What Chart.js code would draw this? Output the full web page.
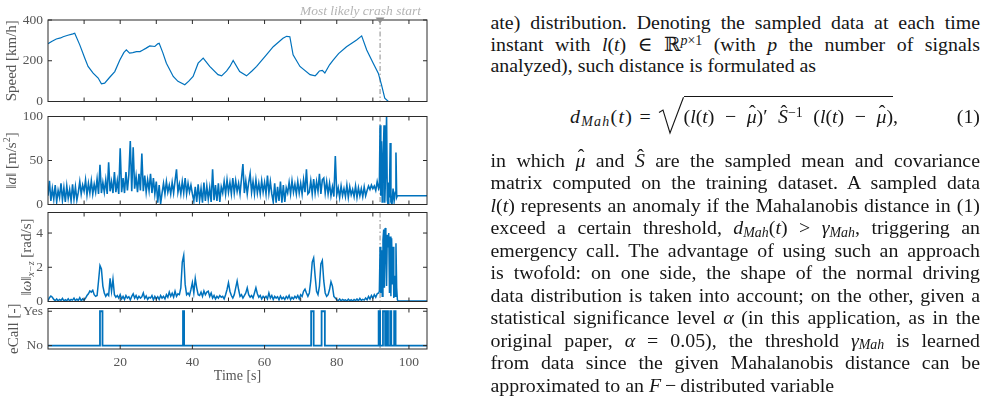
<!DOCTYPE html>
<html>
<head>
<meta charset="utf-8">
<script src="https://cdn.jsdelivr.net/npm/chart.js@4.4.1/dist/chart.umd.min.js"></script>
<style>
html, body { margin: 0; padding: 0; background: #fff; }
#wrap { position: relative; width: 987px; height: 400px; overflow: hidden; font-family: 'Liberation Serif', 'DejaVu Serif', serif; color: #161616; }
canvas { position: absolute; left: 0; }
.p { position: absolute; left: 490.5px; width: 489.5px; font-size: 20px; }
.l { white-space: nowrap; text-align: justify; text-align-last: justify; }
.e { text-align: left; text-align-last: left; }
.sp { font-size: 0.7em; position: relative; top: -0.42em; line-height: 0; }
.sb { font-size: 0.7em; position: relative; top: 0.2em; line-height: 0; font-style: italic; }
.hat { position: relative; display: inline-block; font-style: italic; }
.hat::after { content: "\02C6"; font-style: normal; position: absolute; left: 0.12em; top: -0.22em; }
.eqp { position: absolute; font-size: 20px; line-height: 22px; white-space: nowrap; }
#rad { border-top: 1.1px solid #161616; padding-top: 7.6px; }
</style>
</head>
<body>
<div id="wrap">
  <canvas id="c1" width="430" height="117" style="top:0px"></canvas>
  <canvas id="c2" width="430" height="119" style="top:101px"></canvas>
  <canvas id="c3" width="430" height="120" style="top:197px"></canvas>
  <canvas id="c4" width="430" height="107" style="top:293px"></canvas>

  <div class="p" style="top:12px; line-height:21.7px">
    <div class="l">ate) distribution. Denoting the sampled data at each time</div>
    <div class="l">instant with <i>l</i>(<i>t</i>) ∈ ℝ<span class="sp"><i>p</i>×1</span> (with <i>p</i> the number of signals</div>
    <div class="l e"><span id="probe">analyzed), such distance is formulated as</span></div>
  </div>

  <div class="eqp" id="lhs" style="left:570px; top:104.8px"><i>d</i><span class="sb">Mah</span>(<i>t</i>) =</div>
  <svg style="position:absolute;left:0;top:0" width="987" height="400">
    <path d="M659 112.5 L663 110 L670 133 L683.5 97.2" fill="none" stroke="#161616" stroke-width="1.1"/>
  </svg>
  <div class="eqp" style="left:683.5px; top:104.8px"><span id="rad">(<i>l</i>(<i>t</i>) − <span class="hat">μ</span>)′ <span class="hat">S</span><span class="sp">−1</span> (<i>l</i>(<i>t</i>) − <span class="hat">μ</span>)</span>,</div>
  <div class="eqp" style="right:7px; top:104.8px">(1)</div>

  <div class="p" style="top:148.6px; line-height:22.5px">
    <div class="l">in which <span class="hat">μ</span> and <span class="hat">S</span> are the sampled mean and covariance</div>
    <div class="l">matrix computed on the training dataset. A sampled data</div>
    <div class="l"><i>l</i>(<i>t</i>) represents an anomaly if the Mahalanobis distance in (1)</div>
    <div class="l">exceed a certain threshold, <i>d</i><span class="sb">Mah</span>(<i>t</i>) &gt; <i>γ</i><span class="sb">Mah</span>, triggering an</div>
    <div class="l">emergency call. The advantage of using such an approach</div>
    <div class="l">is twofold: on one side, the shape of the normal driving</div>
    <div class="l">data distribution is taken into account; on the other, given a</div>
    <div class="l">statistical significance level <i>α</i> (in this application, as in the</div>
    <div class="l">original paper, <i>α</i> = 0.05), the threshold <i>γ</i><span class="sb">Mah</span> is learned</div>
    <div class="l">from data since the given Mahalanobis distance can be</div>
    <div class="l e">approximated to an <i>F</i>&#8201;−&#8201;distributed variable</div>
  </div>
</div>

<script>
// time axis
const xMin = 0, xMax = 105;
const crashTime = 92;
const xTicksFine = [10, 20, 30, 40, 50, 60, 70, 80, 90, 100];
const xTicksLabelled = [20, 40, 60, 80, 100];

// speed [km/h]
const speedT = [0,1,2.3,3.5,4.2,5.5,6.9,7.4,8.8,10.2, 11.1,12.5,13.9,14.8,15.7,17.1,18.5,19.9,21.0,21.7,
  22.6,23.5,24.5,25.5,26.3,27.2,28.2,29.6,30.4,30.8, 31.8,32.8,34.7,36.0,37.9,39.0,40.2,41.6,43.0,44.8,
  47.1,48.1,49.5,50.4,51.3,53.1,55.0,56.5,57.8,60.5, 62.4,65.1,66.1,67.0,67.9,69.8,72.6,74.0,74.5,75.2,
  76.0,76.7,78.0,79.0,80.5,82.7,85.5,86.9,88.3,90.1, 91.5,92.4,93.3,94.3,105];
const speedV = [283,295,307,312,318,325,332,335,278,212, 172,139,115,87,90,119,147,204,240,253,
  237,240,245,245,253,262,273,270,283,286, 240,188,123,99,82,100,123,188,213,172,
  132,126,150,172,201,147,126,150,172,229, 269,310,320,318,229,172,132,126,135,150,
  153,140,180,203,235,269,302,322,253,188, 139,82,16,0,0];
const speedTicks = [0, 200, 400];

// acceleration norm [m/s^2], sampled every accelDt s until the crash
const accelDt = 0.4;
const accelV = [
  10,27,4,18,6,22,3,16,8,24,5,19,3,21,7,17,4,23,6,20,5,
  14,26,12,22,15,28,11,24,13,27,12,23,14,29,12,
  45,13,25,14,28,12,48,15,26,13,37,14,27,12,64,
  14,30,13,37,16,34,72,15,65,18,32,14,35,16,58,
  15,33,14,28,16,35,13,30,12,26,2,22,1,
  13,24,12,26,14,22,12,25,13,27,40,14,23,12,26,13,30,12,24,14,22,12,
  4,20,3,23,5,18,2,25,4,21,6,19,3,40,5,22,4,24,3,20,
  13,26,12,28,14,25,12,30,13,27,15,24,12,29,46,13,27,12,25,35,14,26,12,28,13,24,12,27,14,25,12,33,13,26,12,
  3,24,2,20,4,26,2,22,3,19,
  13,25,12,27,14,23,12,26,13,24,12,28,14,40,12,
  14,27,12,29,13,26,15,35,12,28,30,13,26,12,24,
  10,20,9,55,11,19,8,21,10,18,9,22,8,20,11,17,9,21,8,19,10,18,9,20,10,
  16,21,17,22,18,21,16,26,18];
const accelCrashT = [91.8,92.0,92.2,92.4,92.6,92.8,93.1,93.3,93.5,93.8,94.0,94.2,94.4,94.6,94.8,95.0,95.3,95.6,95.9,96.2,96.4,96.6,96.8,97.0,105];
const accelCrashV = [20,90,10,72,3,45,90,2,30,100,5,0,25,8,70,3,0,18,4,14,59,8,10,10,10];
const accelTicks = [0, 50, 100];

// angular rate norm [rad/s]
const gyroDt = 0.4;
const gyroV = [
  0.05,0.22,0.32,0.25,0.12,0.05,0.15,0.04,0.12,0.06,0.18,0.03,0.1,0.05,0.16,0.04,0.12,0.08,0.2,0.05,0.14,0.06,0.22,0.04,0.15,0.08,
  0.2,0.35,0.45,0.62,0.55,0.65,0.4,0.3,0.35,1.2,2.1,1.9,0.9,0.5,0.3,0.45,0.35,1.35,0.6,1.3,0.4,0.25,0.35,0.2,0.4,
  0.15,0.3,0.12,0.35,0.2,0.28,0.1,0.3,0.45,0.2, 0.35,0.15,0.3,0.2,0.28,0.5,0.18,0.32,0.12,0.25,
  0.2,0.35,0.1,0.3,0.15,0.28,0.12,0.35,0.2,0.3, 0.15,0.4,0.25,0.55,0.3,0.48,0.25,0.6,0.3,0.45,
  0.4,0.8,2.3,2.7,1.0,0.4,0.5,0.35,0.7,1.1,0.5,1.35,0.8,0.4,0.35,0.55,0.3,0.62,0.4,0.55,
  0.6,0.3,0.5,0.2,0.35,0.15,0.3,0.2,0.35,0.25, 0.3,0.15,0.4,0.7,1.1,0.6,0.35,0.2,0.4,0.8,
  1.2,0.7,0.3,0.4,0.2,0.35,0.5,0.8,0.4,0.25, 0.35,0.2,0.5,0.8,0.45,0.25,0.35,0.15,0.3,0.2,
  0.3,0.15,0.5,0.2,0.35,0.12,0.3,0.2,0.28,0.1, 0.32,0.15,0.25,0.12,0.3,0.18,0.35,0.1,0.25,0.15,
  0.3,0.2,0.35,0.15,0.4,0.3,0.6,0.72,0.5,0.3,
  0.5,1.2,2.3,2.55,1.5,0.6,0.4,0.9,2.2,2.4,1.2,0.5,0.3,0.4,0.7,1.15,0.9,0.3,0.2,0.1,
  0.05,0.15,0.03,0.12,0.06,0.1,0.02,0.14,0.04,0.1, 0.03,0.12,0.05,0.15,0.04,0.18,0.06,0.12,0.08,0.2,
  0.1,0.3,0.15,0.35,0.2,0.4,0.25,0.45,0.5];
const gyroCrashT = [91.8,92.0,92.2,92.4,92.6,92.8,93.0,93.2,93.4,93.6,93.8,94.0,94.2,94.4,94.6,94.8,95.0,95.2,95.4,95.6,95.8,96.0,96.2,96.4,96.6,96.8,97.0,105];
const gyroCrashV = [0.6,3.2,0.5,3.0,0.3,3.6,4.2,0.8,4.3,3.5,0.9,3.9,3.2,4.0,0.5,3.8,0.3,3.7,1.0,3.2,0.2,1.5,0.3,3.4,0.8,0.1,0.03,0.03];
const gyroTicks = [0, 2, 4];

// eCall triggered intervals [s]
const eCallStart = [14.4, 37.4, 72.9, 75.8, 91.6, 92.8, 93.9, 94.8, 95.9];
const eCallEnd   = [15.1, 37.7, 73.6, 76.7, 92.0, 93.4, 94.2, 95.1, 96.3];
const eCallTicks = [0, 1];
const eCallLabels = ['No', 'Yes'];

const BLUE = '#0072BD';
const AXC = '#2b2b2b';
const TXT = '#565656';
const FONT = "'Liberation Serif', 'DejaVu Serif', serif";

// fit the body text to the measured widths of the reference
(function fitText() {
  const k = 326 / document.getElementById('probe').getBoundingClientRect().width;
  document.querySelectorAll('.p, .eqp').forEach(el => { el.style.fontSize = (20 * k) + 'px'; });
  const rad = document.getElementById('rad');
  rad.style.wordSpacing = ((893 - 683.5 - rad.getBoundingClientRect().width) / 6) + 'px';
  const lhs = document.getElementById('lhs');
  const n = lhs.textContent.length;
  lhs.style.letterSpacing = ((652 - 570 - lhs.getBoundingClientRect().width) / n) + 'px';
})();

function pairs(t, v) { return t.map((x, i) => ({x: x, y: v[i]})); }
function sampled(dt, v) { return v.map((y, i) => ({x: Math.round(i * dt * 100) / 100, y: y})); }

let ePts = [{x: xMin, y: 0}];
eCallStart.forEach((s, i) => {
  ePts.push({x: s, y: 0}, {x: s, y: 1}, {x: eCallEnd[i], y: 1}, {x: eCallEnd[i], y: 0});
});
ePts.push({x: xMax, y: 0});

function axesPlugin(o) {
  return {
    id: 'matlabAxes',
    beforeDatasetsDraw(chart) {
      const ctx = chart.ctx, a = chart.chartArea;
      const cx = chart.scales.x.getPixelForValue(crashTime);
      ctx.save();
      ctx.strokeStyle = '#8a8a8a';
      ctx.lineWidth = 1;
      ctx.setLineDash([5, 2.5, 1.5, 2.5]);
      ctx.beginPath(); ctx.moveTo(cx, a.top); ctx.lineTo(cx, a.bottom); ctx.stroke();
      ctx.restore();
    },
    afterDatasetsDraw(chart) {
      const ctx = chart.ctx, a = chart.chartArea;
      const x = chart.scales.x, y = chart.scales.y;
      ctx.save();
      ctx.strokeStyle = AXC;
      ctx.lineWidth = 1;
      ctx.strokeRect(a.left, a.top, a.right - a.left, a.bottom - a.top);
      ctx.beginPath();
      o.xMarks.forEach(v => {
        const px = x.getPixelForValue(v);
        ctx.moveTo(px, a.top); ctx.lineTo(px, a.top + 4);
        ctx.moveTo(px, a.bottom); ctx.lineTo(px, a.bottom - 4);
      });
      o.yTicks.forEach(v => {
        const py = y.getPixelForValue(v);
        ctx.moveTo(a.left, py); ctx.lineTo(a.left + 4, py);
        ctx.moveTo(a.right, py); ctx.lineTo(a.right - 4, py);
      });
      ctx.stroke();

      // y label, drawn in pieces so that italics and sub/superscripts work
      ctx.fillStyle = TXT;
      ctx.textBaseline = 'middle';
      ctx.translate(o.titleX, (a.top + a.bottom) / 2 + (o.titleDy || 0));
      ctx.rotate(-Math.PI / 2);
      let w = 0;
      o.title.forEach(s => { ctx.font = s.f + ' ' + FONT; w += ctx.measureText(s.t).width; });
      let pos = -w / 2;
      o.title.forEach(s => {
        ctx.font = s.f + ' ' + FONT;
        ctx.fillText(s.t, pos, s.dy || 0);
        pos += ctx.measureText(s.t).width;
      });
      ctx.restore();

      if (o.xTitle) {
        ctx.save();
        ctx.fillStyle = TXT;
        ctx.font = '14px ' + FONT;
        ctx.textAlign = 'center';
        ctx.textBaseline = 'middle';
        ctx.fillText(o.xTitle, (a.left + a.right) / 2, o.xTitleY);
        ctx.restore();
      }
      if (o.note) {
        const cx = x.getPixelForValue(crashTime);
        ctx.save();
        ctx.fillStyle = '#b4b4b4';
        ctx.font = 'italic 13.5px ' + FONT;
        ctx.textAlign = 'right';
        ctx.textBaseline = 'middle';
        ctx.fillText(o.note, 421, 11.5);
        ctx.fillStyle = '#8f8f8f';
        ctx.beginPath();
        ctx.moveTo(cx - 4.5, a.top - 2.5); ctx.lineTo(cx + 4.5, a.top - 2.5); ctx.lineTo(cx, a.top + 3.5);
        ctx.closePath(); ctx.fill();
        ctx.restore();
      }
    }
  };
}

function panel(id, o) {
  return new Chart(document.getElementById(id), {
    type: 'line',
    data: { datasets: [{ data: o.points, borderColor: BLUE, borderWidth: o.lw || 1.2, pointRadius: 0, tension: 0, fill: false }] },
    options: {
      responsive: false,
      animation: false,
      events: [],
      layout: { padding: { top: o.padTop, bottom: o.padBottom, left: 0, right: 3 } },
      plugins: { legend: { display: false }, tooltip: { enabled: false } },
      scales: {
        x: {
          type: 'linear', min: xMin, max: xMax,
          grid: { display: false, drawTicks: false }, border: { display: false },
          afterBuildTicks: s => { s.ticks = (o.xLabels || o.xMarks).map(v => ({ value: v })); },
          ticks: { display: !!o.xLabels, color: TXT, font: { family: FONT, size: 13.5 }, padding: 5, maxRotation: 0, autoSkip: false },
          afterFit: s => { s.height = o.xAxisH || 0; }
        },
        y: {
          type: 'linear', min: o.yMin, max: o.yMax,
          grid: { display: false, drawTicks: false }, border: { display: false },
          afterBuildTicks: s => { s.ticks = o.yTicks.map(v => ({ value: v })); },
          ticks: { color: TXT, font: { family: FONT, size: 13.5 }, padding: 5, callback: o.yFmt || (v => String(v)) },
          afterFit: s => { s.width = 48; }
        }
      }
    },
    plugins: [axesPlugin(o)]
  });
}

panel('c1', {
  points: pairs(speedT, speedV), yMin: 0, yMax: 400, yTicks: speedTicks, xMarks: xTicksFine,
  padTop: 20, padBottom: 15.5, titleX: 12,
  title: [{ t: 'Speed [km/h]', f: '15px' }],
  note: 'Most likely crash start'
});
panel('c2', {
  points: sampled(accelDt, accelV).concat(pairs(accelCrashT, accelCrashV)), lw: 1.6, yMin: 0, yMax: 100, yTicks: accelTicks, xMarks: xTicksFine,
  padTop: 15.5, padBottom: 15.5, titleX: 12,
  title: [{ t: '‖', f: '15px' }, { t: 'a', f: 'italic 15px' }, { t: '‖ [m/s', f: '15px' }, { t: '2', f: '10px', dy: -5 }, { t: ']', f: '15px' }]
});
panel('c3', {
  points: sampled(gyroDt, gyroV).concat(pairs(gyroCrashT, gyroCrashV)), lw: 1.5, yMin: 0, yMax: 5.2, yTicks: gyroTicks, xMarks: xTicksFine,
  padTop: 15.5, padBottom: 15.5, titleX: 27,
  title: [{ t: '‖', f: '15px' }, { t: 'ω', f: 'italic 15px' }, { t: '‖', f: '15px' }, { t: 'x−z', f: 'italic 10px', dy: 4 }, { t: ' [rad/s]', f: '15px' }]
});
panel('c4', {
  points: ePts, lw: 1.8, yMin: -0.1, yMax: 1.08, yTicks: eCallTicks, xMarks: xTicksLabelled, xLabels: xTicksLabelled,
  yFmt: v => eCallLabels[eCallTicks.indexOf(v)],
  padTop: 15.5, padBottom: 0, xAxisH: 51, titleX: 14,
  title: [{ t: 'eCall [-]', f: '15px' }],
  xTitle: 'Time [s]', xTitleY: 83
});
</script>
</body>
</html>
